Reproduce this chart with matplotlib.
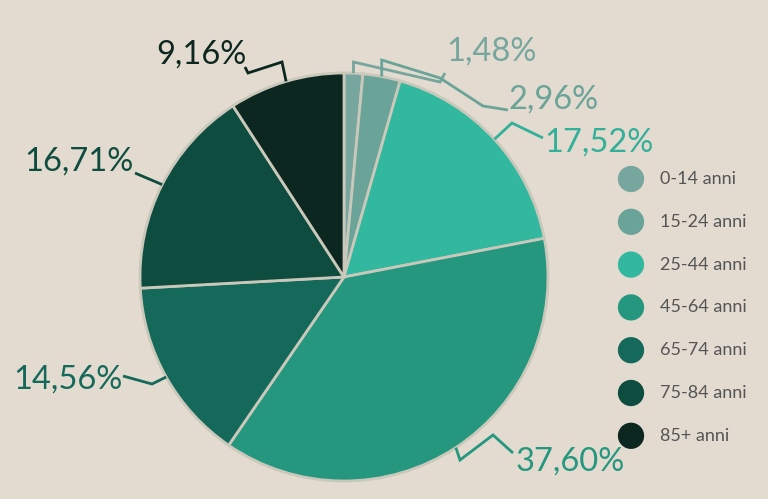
import matplotlib
matplotlib.use("Agg")
import matplotlib.pyplot as plt
import numpy as np

categories = ["0-14 anni", "15-24 anni", "25-44 anni", "45-64 anni",
              "65-74 anni", "75-84 anni", "85+ anni"]
values = [1.48, 2.96, 17.52, 37.60, 14.56, 16.71, 9.16]
labels = ["1,48%", "2,96%", "17,52%", "37,60%", "14,56%", "16,71%", "9,16%"]
colors = ["#77a69e", "#6aa398", "#33b8a0", "#26977f", "#15695a", "#0f4c40", "#0c2620"]
label_colors = ["#77a69e", "#6aa398", "#33b09a", "#26977f", "#15695a", "#0f4c40", "#0c2620"]

BG = "#e3dbcf"
W, H = 768, 499
CX, CY, R = 344, 277, 204

plt.rcParams['font.family'] = ['Lato', 'DejaVu Sans']

fig = plt.figure(figsize=(W / 100, H / 100), dpi=100, facecolor=BG)
ax = fig.add_axes([0, 0, 1, 1])
ax.set_facecolor(BG)


def P(x, y):
    return (x, H - y)


wedges, _ = ax.pie(values, colors=colors, startangle=90, counterclock=False,
                   center=P(CX, CY), radius=R, frame=True,
                   wedgeprops=dict(edgecolor="#c9c8ba", linewidth=2))
ax.set_xlim(0, W)
ax.set_ylim(0, H)
ax.set_aspect('equal')
ax.axis('off')

# label layout: (text anchor x, y, ha), leader elbow points (pixel coords)
label_layout = [
    ((446, 52, 'left'), [(None, 62), (440, 82), (445, 73)]),
    ((509, 100, 'left'), [(None, 60), (440, 78), (483, 106), (508, 110)]),
    ((544, 143, 'left'), [(512, 123), (543, 138)]),
    ((516, 462, 'left'), [(460, 460), (493, 435), (513, 453)]),
    ((123, 380, 'right'), [(152, 384), (123, 376)]),
    ((134, 162, 'right'), [(135, 173)]),
    ((246, 55, 'right'), [(282, 62), (248, 73), (245, 67)]),
]

for w, lab, col, (txt, elbows) in zip(wedges, labels, label_colors, label_layout):
    ang = np.deg2rad((w.theta1 + w.theta2) / 2)
    x0, y0 = w.center[0] + R * np.cos(ang), w.center[1] + R * np.sin(ang)
    xs, ys = [x0], [y0]
    for ex, ey in elbows:
        xs.append(x0 if ex is None else ex)
        ys.append(H - ey)
    ax.plot(xs, ys, color=col, lw=2, solid_joinstyle='miter', solid_capstyle='butt')
    tx, ty, ha = txt
    ax.text(tx, H - ty, lab, color=col, fontsize=23.5, ha=ha, va='center')

# legend
for i, (cat, col) in enumerate(zip(categories, colors)):
    y = 179 + i * 42.8
    ax.scatter([631], [H - y], s=26 ** 2 * 0.53, color=col, edgecolors='none')
    ax.text(660, H - y, cat, color="#555555", fontsize=13,
            ha='left', va='center')

fig.savefig("out.png", dpi=100, facecolor=BG)
